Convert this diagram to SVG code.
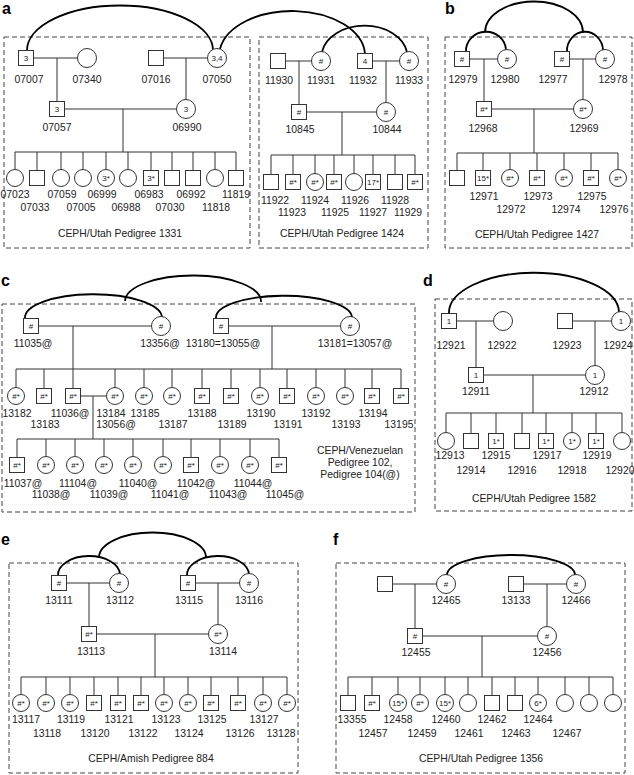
<svg xmlns="http://www.w3.org/2000/svg" width="634" height="775" viewBox="0 0 634 775">
<style>
.s{fill:#fff;stroke:#333;stroke-width:1}
.k{fill:none;stroke:#333;stroke-width:1}
.arc{fill:none;stroke:#000;stroke-width:1.8}
.box{fill:none;stroke:#444;stroke-width:1;stroke-dasharray:5 3}
text{font-family:"Liberation Sans",Arial,sans-serif;fill:#222;text-anchor:middle}
.l{font-size:10.4px}
.i{font-size:8px}
.p{font-size:16px;font-weight:bold;text-anchor:start;fill:#000}
</style>
<rect width="634" height="775" fill="#fff"/>
<!-- panel letters -->
<text class="p" x="2" y="14">a</text>
<text class="p" x="445" y="14">b</text>
<text class="p" x="1" y="286">c</text>
<text class="p" x="423" y="286">d</text>
<text class="p" x="1" y="545">e</text>
<text class="p" x="333" y="545">f</text>
<!-- boxes -->
<g id="boxes">
<rect class="box" x="4" y="37" width="246" height="211"/>
<rect class="box" x="259" y="37" width="169" height="211"/>
<rect class="box" x="445" y="37" width="187" height="211"/>
<rect class="box" x="2" y="304" width="413" height="208"/>
<rect class="box" x="435" y="299" width="197" height="212"/>
<rect class="box" x="9" y="563" width="289" height="210"/>
<rect class="box" x="336" y="563" width="289" height="210"/>
</g>
<!-- captions -->
<text class="l" x="120" y="237">CEPH/Utah Pedigree 1331</text>
<text class="l" x="342" y="237">CEPH/Utah Pedigree 1424</text>
<text class="l" x="537" y="238">CEPH/Utah Pedigree 1427</text>
<text class="l" x="360" y="454">CEPH/Venezuelan</text>
<text class="l" x="360" y="466">Pedigree 102,</text>
<text class="l" x="360" y="478">Pedigree 104(@)</text>
<text class="l" x="534" y="502">CEPH/Utah Pedigree 1582</text>
<text class="l" x="151" y="762">CEPH/Amish Pedigree 884</text>
<text class="l" x="481" y="762">CEPH/Utah Pedigree 1356</text>
<!-- connectors -->
<g id="connectors">
<path class="k" d="M33.5,58H77.5M57,58V101.5M163.5,58H207.5M186,58V99.5M64.5,109H176.5M123,109V152M15,152H236M15,152V169.5M37,152V170.5M61,152V169.5M83,152V169.5M106,152V169.5M128,152V169.5M151,152V170.5M172,152V170.5M193,152V170.5M215,152V169.5M236,152V170.5"/>
<path class="k" d="M285.5,61H311.5M299,61V104.5M372.5,61H399.5M386,61V102.5M306.5,112H376.5M342,112V155M271,155H415M271,155V174.5M293,155V174.5M315,155V173.5M334,155V174.5M354,155V173.5M373,155V174.5M395,155V174.5M415,155V174.5"/>
<path class="k" d="M469.5,59H497.5M484,59V101.5M569.5,59H595.5M583,59V99.5M491.5,109H573.5M534,109V153M457,153H618M457,153V170.5M483,153V170.5M510,153V169.5M537,153V170.5M564,153V169.5M591,153V170.5M618,153V169.5"/>
<path class="k" d="M38.5,326H151.5M73,326V388.5M228.5,326H340.5M272,326V369M16,369H401M16,369V387.5M44,369V388.5M115,369V387.5M144,369V387.5M172,369V387.5M202,369V388.5M231,369V388.5M260,369V387.5M287,369V388.5M316,369V387.5M345,369V387.5M372,369V388.5M401,369V388.5M80.5,396H106.5M93,396V439M17,439H279M17,439V457.5M46,439V456.5M75,439V456.5M104,439V456.5M133,439V456.5M163,439V456.5M191,439V457.5M220,439V456.5M250,439V456.5M279,439V457.5"/>
<path class="k" d="M456.5,321H493.5M476,321V367.5M572.5,321H611.5M595,321V365.5M483.5,375H585.5M533,375V413M446,413H622M446,413V432.5M471,413V433.5M496,413V433.5M522,413V433.5M546,413V433.5M572,413V432.5M596,413V433.5M622,413V432.5"/>
<path class="k" d="M66.5,583H109.5M89,583V626.5M195.5,583H239.5M218,583V624.5M96.5,634H208.5M155,634V677M21,677H287M21,677V694.5M46,677V694.5M70,677V694.5M94,677V695.5M118,677V695.5M141,677V695.5M164,677V694.5M188,677V694.5M211,677V695.5M238,677V695.5M263,677V694.5M287,677V694.5"/>
<path class="k" d="M392.5,584H436.5M415,584V628.5M523.5,584H566.5M547,584V626.5M422.5,636H537.5M482,636V677M348,677H613M348,677V695.5M372,677V695.5M398,677V694.5M420,677V694.5M445,677V694.5M468,677V694.5M492,677V695.5M515,677V695.5M538,677V694.5M565,677V694.5M589,677V694.5M613,677V694.5"/>
<!-- arcs -->
<path class="arc" d="M27,50.5A93,45 0 0 1 213,50.5"/>
<path class="arc" d="M220,49A73,45 0 0 1 365,53.5"/>
<path class="arc" d="M322,52A43,31 0 0 1 407,52"/>
<path class="arc" d="M466,51.5A20,19 0 0 1 506,50"/>
<path class="arc" d="M567,51.5A18,19 0 0 1 603,50"/>
<path class="arc" d="M485,32.5A49,31 0 0 1 583,32.5"/>
<path class="arc" d="M25,318.5A68.5,23.5 0 0 1 162,317"/>
<path class="arc" d="M216,318.5A68,22 0 0 1 352,317"/>
<path class="arc" d="M125,301A68,26 0 0 1 261,302"/>
<path class="arc" d="M449,313.5A85,40 0 0 1 619,312"/>
<path class="arc" d="M58,575.5A31,19 0 0 1 120,574.5"/>
<path class="arc" d="M187,575.5A31,19 0 0 1 249,574.5"/>
<path class="arc" d="M99,557.5A53.5,25 0 0 1 206,557.5"/>
<path class="arc" d="M447,575A64,20 0 0 1 575,575"/>
</g>
<!-- panel a nodes -->
<g id="n07007"><rect class="s" x="18.5" y="50.5" width="15" height="15"/><text class="i" x="26" y="61">3</text><text class="l" x="29" y="83">07007</text></g>
<g id="n07340"><circle class="s" cx="87" cy="58" r="9.5"/><text class="l" x="87" y="83">07340</text></g>
<g id="n07016"><rect class="s" x="148.5" y="50.5" width="15" height="15"/><text class="l" x="156" y="83">07016</text></g>
<g id="n07050"><circle class="s" cx="217" cy="58" r="9.5"/><text class="i" x="217" y="61">3,4</text><text class="l" x="217" y="83">07050</text></g>
<g id="n07057"><rect class="s" x="49.5" y="101.5" width="15" height="15"/><text class="i" x="57" y="112">3</text><text class="l" x="57" y="131">07057</text></g>
<g id="n06990"><circle class="s" cx="186" cy="109" r="9.5"/><text class="i" x="186" y="112">3</text><text class="l" x="187" y="131">06990</text></g>
<g id="n07023"><circle class="s" cx="15" cy="178" r="8.5"/><text class="l" x="15" y="198">07023</text></g>
<g id="n07033"><rect class="s" x="29.5" y="170.5" width="15" height="15"/><text class="l" x="35" y="211">07033</text></g>
<g id="n07059"><circle class="s" cx="61" cy="178" r="8.5"/><text class="l" x="62" y="198">07059</text></g>
<g id="n07005"><circle class="s" cx="83" cy="178" r="8.5"/><text class="l" x="81" y="211">07005</text></g>
<g id="n06999"><circle class="s" cx="106" cy="178" r="8.5"/><text class="i" x="106" y="181">3*</text><text class="l" x="102" y="198">06999</text></g>
<g id="n06988"><circle class="s" cx="128" cy="178" r="8.5"/><text class="l" x="126" y="211">06988</text></g>
<g id="n06983"><rect class="s" x="143.5" y="170.5" width="15" height="15"/><text class="i" x="151" y="181">3*</text><text class="l" x="149" y="198">06983</text></g>
<g id="n07030"><rect class="s" x="164.5" y="170.5" width="15" height="15"/><text class="l" x="170" y="211">07030</text></g>
<g id="n06992"><rect class="s" x="185.5" y="170.5" width="15" height="15"/><text class="l" x="191" y="198">06992</text></g>
<g id="n11818"><circle class="s" cx="215" cy="178" r="8.5"/><text class="l" x="216" y="211">11818</text></g>
<g id="n11819"><rect class="s" x="228.5" y="170.5" width="15" height="15"/><text class="l" x="236" y="198">11819</text></g>
<!-- panel 1424 -->
<g id="n11930"><rect class="s" x="270.5" y="53.5" width="15" height="15"/><text class="l" x="279" y="84">11930</text></g>
<g id="n11931"><circle class="s" cx="321" cy="61" r="9.5"/><text class="i" x="321" y="64">#</text><text class="l" x="321" y="84">11931</text></g>
<g id="n11932"><rect class="s" x="357.5" y="53.5" width="15" height="15"/><text class="i" x="365" y="64">4</text><text class="l" x="363" y="84">11932</text></g>
<g id="n11933"><circle class="s" cx="409" cy="61" r="9.5"/><text class="i" x="409" y="64">#</text><text class="l" x="409" y="84">11933</text></g>
<g id="n10845"><rect class="s" x="291.5" y="104.5" width="15" height="15"/><text class="i" x="299" y="115">#</text><text class="l" x="300" y="133">10845</text></g>
<g id="n10844"><circle class="s" cx="386" cy="112" r="9.5"/><text class="i" x="386" y="115">#</text><text class="l" x="387" y="133">10844</text></g>
<g id="n11922"><rect class="s" x="263.5" y="174.5" width="15" height="15"/><text class="l" x="275" y="204">11922</text></g>
<g id="n11923"><rect class="s" x="285.5" y="174.5" width="15" height="15"/><text class="i" x="293" y="185">#*</text><text class="l" x="292" y="216">11923</text></g>
<g id="n11924"><circle class="s" cx="315" cy="182" r="8.5"/><text class="i" x="315" y="185">#*</text><text class="l" x="315" y="204">11924</text></g>
<g id="n11925"><rect class="s" x="326.5" y="174.5" width="15" height="15"/><text class="i" x="334" y="185">#*</text><text class="l" x="335" y="216">11925</text></g>
<g id="n11926"><circle class="s" cx="354" cy="182" r="8.5"/><text class="l" x="355" y="204">11926</text></g>
<g id="n11927"><rect class="s" x="365.5" y="174.5" width="15" height="15"/><text class="i" x="373" y="185">17*</text><text class="l" x="373" y="216">11927</text></g>
<g id="n11928"><rect class="s" x="387.5" y="174.5" width="15" height="15"/><text class="l" x="395" y="204">11928</text></g>
<g id="n11929"><rect class="s" x="407.5" y="174.5" width="15" height="15"/><text class="i" x="415" y="185">#*</text><text class="l" x="408" y="216">11929</text></g>
<!-- panel b -->
<g id="n12979"><rect class="s" x="454.5" y="51.5" width="15" height="15"/><text class="i" x="462" y="62">#</text><text class="l" x="463" y="83">12979</text></g>
<g id="n12980"><circle class="s" cx="507" cy="59" r="9.5"/><text class="i" x="507" y="62">#</text><text class="l" x="505" y="83">12980</text></g>
<g id="n12977"><rect class="s" x="554.5" y="51.5" width="15" height="15"/><text class="i" x="562" y="62">#</text><text class="l" x="553" y="83">12977</text></g>
<g id="n12978"><circle class="s" cx="605" cy="59" r="9.5"/><text class="i" x="605" y="62">#</text><text class="l" x="613" y="83">12978</text></g>
<g id="n12968"><rect class="s" x="476.5" y="101.5" width="15" height="15"/><text class="i" x="484" y="112">#*</text><text class="l" x="483" y="132">12968</text></g>
<g id="n12969"><circle class="s" cx="583" cy="109" r="9.5"/><text class="i" x="583" y="112">#*</text><text class="l" x="584" y="132">12969</text></g>
<g id="b_u1"><rect class="s" x="449.5" y="170.5" width="15" height="15"/></g>
<g id="n12971"><rect class="s" x="475.5" y="170.5" width="15" height="15"/><text class="i" x="483" y="181">15*</text><text class="l" x="484" y="200">12971</text></g>
<g id="n12972"><circle class="s" cx="510" cy="178" r="8.5"/><text class="i" x="510" y="181">#*</text><text class="l" x="511" y="213">12972</text></g>
<g id="n12973"><rect class="s" x="529.5" y="170.5" width="15" height="15"/><text class="i" x="537" y="181">#*</text><text class="l" x="538" y="200">12973</text></g>
<g id="n12974"><circle class="s" cx="564" cy="178" r="8.5"/><text class="i" x="564" y="181">#*</text><text class="l" x="566" y="213">12974</text></g>
<g id="n12975"><rect class="s" x="583.5" y="170.5" width="15" height="15"/><text class="i" x="591" y="181">#*</text><text class="l" x="592" y="200">12975</text></g>
<g id="n12976"><circle class="s" cx="618" cy="178" r="8.5"/><text class="i" x="618" y="181">#*</text><text class="l" x="614" y="213">12976</text></g>
<!-- panel c -->
<g id="n11035"><rect class="s" x="23.5" y="318.5" width="15" height="15"/><text class="i" x="31" y="329">#</text><text class="l" x="33" y="347">11035@</text></g>
<g id="n13356"><circle class="s" cx="161" cy="326" r="9.5"/><text class="i" x="161" y="329">#</text><text class="l" x="160" y="347">13356@</text></g>
<g id="n13180"><rect class="s" x="213.5" y="318.5" width="15" height="15"/><text class="i" x="221" y="329">#</text><text class="l" x="223" y="347">13180=13055@</text></g>
<g id="n13181"><circle class="s" cx="350" cy="326" r="9.5"/><text class="i" x="350" y="329">#</text><text class="l" x="355" y="347">13181=13057@</text></g>
<g id="n13182"><circle class="s" cx="16" cy="396" r="8.5"/><text class="i" x="16" y="399">#*</text><text class="l" x="17" y="417">13182</text></g>
<g id="n13183"><rect class="s" x="36.5" y="388.5" width="15" height="15"/><text class="i" x="44" y="399">#*</text><text class="l" x="45" y="428">13183</text></g>
<g id="n11036"><rect class="s" x="65.5" y="388.5" width="15" height="15"/><text class="i" x="73" y="399">#*</text><text class="l" x="70" y="417">11036@</text></g>
<g id="n13184"><circle class="s" cx="115" cy="396" r="8.5"/><text class="i" x="115" y="399">#*</text><text class="l" x="111" y="417">13184</text><text class="l" x="116" y="428">13056@</text></g>
<g id="n13185"><circle class="s" cx="144" cy="396" r="8.5"/><text class="i" x="144" y="399">#*</text><text class="l" x="145" y="417">13185</text></g>
<g id="n13187"><circle class="s" cx="172" cy="396" r="8.5"/><text class="i" x="172" y="399">#*</text><text class="l" x="173" y="428">13187</text></g>
<g id="n13188"><rect class="s" x="194.5" y="388.5" width="15" height="15"/><text class="i" x="202" y="399">#*</text><text class="l" x="202" y="417">13188</text></g>
<g id="n13189"><rect class="s" x="223.5" y="388.5" width="15" height="15"/><text class="i" x="231" y="399">#*</text><text class="l" x="232" y="428">13189</text></g>
<g id="n13190"><circle class="s" cx="260" cy="396" r="8.5"/><text class="i" x="260" y="399">#*</text><text class="l" x="261" y="417">13190</text></g>
<g id="n13191"><rect class="s" x="279.5" y="388.5" width="15" height="15"/><text class="i" x="287" y="399">#*</text><text class="l" x="288" y="428">13191</text></g>
<g id="n13192"><circle class="s" cx="316" cy="396" r="8.5"/><text class="i" x="316" y="399">#*</text><text class="l" x="316" y="417">13192</text></g>
<g id="n13193"><circle class="s" cx="345" cy="396" r="8.5"/><text class="i" x="345" y="399">#*</text><text class="l" x="346" y="428">13193</text></g>
<g id="n13194"><rect class="s" x="364.5" y="388.5" width="15" height="15"/><text class="i" x="372" y="399">#*</text><text class="l" x="373" y="417">13194</text></g>
<g id="n13195"><rect class="s" x="393.5" y="388.5" width="15" height="15"/><text class="i" x="401" y="399">#*</text><text class="l" x="399" y="428">13195</text></g>
<g id="n11037"><rect class="s" x="9.5" y="457.5" width="15" height="15"/><text class="i" x="17" y="468">#*</text><text class="l" x="23" y="487">11037@</text></g>
<g id="n11038"><circle class="s" cx="46" cy="465" r="8.5"/><text class="i" x="46" y="468">#*</text><text class="l" x="51" y="498">11038@</text></g>
<g id="n11104"><circle class="s" cx="75" cy="465" r="8.5"/><text class="i" x="75" y="468">#*</text><text class="l" x="78" y="487">11104@</text></g>
<g id="n11039"><circle class="s" cx="104" cy="465" r="8.5"/><text class="i" x="104" y="468">#*</text><text class="l" x="109" y="498">11039@</text></g>
<g id="n11040"><circle class="s" cx="133" cy="465" r="8.5"/><text class="i" x="133" y="468">#*</text><text class="l" x="138" y="487">11040@</text></g>
<g id="n11041"><circle class="s" cx="163" cy="465" r="8.5"/><text class="i" x="163" y="468">#*</text><text class="l" x="170" y="498">11041@</text></g>
<g id="n11042"><rect class="s" x="183.5" y="457.5" width="15" height="15"/><text class="i" x="191" y="468">#*</text><text class="l" x="196" y="487">11042@</text></g>
<g id="n11043"><circle class="s" cx="220" cy="465" r="8.5"/><text class="i" x="220" y="468">#*</text><text class="l" x="228" y="498">11043@</text></g>
<g id="n11044"><circle class="s" cx="250" cy="465" r="8.5"/><text class="i" x="250" y="468">#*</text><text class="l" x="253" y="487">11044@</text></g>
<g id="n11045"><rect class="s" x="271.5" y="457.5" width="15" height="15"/><text class="i" x="279" y="468">#*</text><text class="l" x="285" y="498">11045@</text></g>
<!-- panel d -->
<g id="n12921"><rect class="s" x="441.5" y="313.5" width="15" height="15"/><text class="i" x="449" y="324">1</text><text class="l" x="451" y="349">12921</text></g>
<g id="n12922"><circle class="s" cx="503" cy="321" r="9.5"/><text class="l" x="502" y="349">12922</text></g>
<g id="n12923"><rect class="s" x="557.5" y="313.5" width="15" height="15"/><text class="l" x="567" y="349">12923</text></g>
<g id="n12924"><circle class="s" cx="621" cy="321" r="9.5"/><text class="i" x="621" y="324">1</text><text class="l" x="618" y="349">12924</text></g>
<g id="n12911"><rect class="s" x="468.5" y="367.5" width="15" height="15"/><text class="i" x="476" y="378">1</text><text class="l" x="476" y="395">12911</text></g>
<g id="n12912"><circle class="s" cx="595" cy="375" r="9.5"/><text class="i" x="595" y="378">1</text><text class="l" x="594" y="395">12912</text></g>
<g id="n12913"><circle class="s" cx="446" cy="441" r="8.5"/><text class="l" x="450" y="459">12913</text></g>
<g id="n12914"><rect class="s" x="463.5" y="433.5" width="15" height="15"/><text class="l" x="471" y="474">12914</text></g>
<g id="n12915"><rect class="s" x="488.5" y="433.5" width="15" height="15"/><text class="i" x="496" y="444">1*</text><text class="l" x="496" y="459">12915</text></g>
<g id="n12916"><rect class="s" x="514.5" y="433.5" width="15" height="15"/><text class="l" x="522" y="474">12916</text></g>
<g id="n12917"><rect class="s" x="538.5" y="433.5" width="15" height="15"/><text class="i" x="546" y="444">1*</text><text class="l" x="547" y="459">12917</text></g>
<g id="n12918"><circle class="s" cx="572" cy="441" r="8.5"/><text class="i" x="572" y="444">1*</text><text class="l" x="572" y="474">12918</text></g>
<g id="n12919"><rect class="s" x="588.5" y="433.5" width="15" height="15"/><text class="i" x="596" y="444">1*</text><text class="l" x="597" y="459">12919</text></g>
<g id="n12920"><circle class="s" cx="622" cy="441" r="8.5"/><text class="l" x="620" y="474">12920</text></g>
<!-- panel e -->
<g id="n13111"><rect class="s" x="51.5" y="575.5" width="15" height="15"/><text class="i" x="59" y="586">#</text><text class="l" x="59" y="604">13111</text></g>
<g id="n13112"><circle class="s" cx="119" cy="583" r="9.5"/><text class="i" x="119" y="586">#</text><text class="l" x="120" y="604">13112</text></g>
<g id="n13115"><rect class="s" x="180.5" y="575.5" width="15" height="15"/><text class="i" x="188" y="586">#</text><text class="l" x="189" y="604">13115</text></g>
<g id="n13116"><circle class="s" cx="249" cy="583" r="9.5"/><text class="i" x="249" y="586">#</text><text class="l" x="249" y="604">13116</text></g>
<g id="n13113"><rect class="s" x="81.5" y="626.5" width="15" height="15"/><text class="i" x="89" y="637">#*</text><text class="l" x="91" y="655">13113</text></g>
<g id="n13114"><circle class="s" cx="218" cy="634" r="9.5"/><text class="i" x="218" y="637">#*</text><text class="l" x="223" y="655">13114</text></g>
<g id="n13117"><circle class="s" cx="21" cy="703" r="8.5"/><text class="i" x="21" y="706">#*</text><text class="l" x="26" y="723">13117</text></g>
<g id="n13118"><circle class="s" cx="46" cy="703" r="8.5"/><text class="i" x="46" y="706">#*</text><text class="l" x="47" y="737">13118</text></g>
<g id="n13119"><circle class="s" cx="70" cy="703" r="8.5"/><text class="i" x="70" y="706">#*</text><text class="l" x="71" y="723">13119</text></g>
<g id="n13120"><rect class="s" x="86.5" y="695.5" width="15" height="15"/><text class="i" x="94" y="706">#*</text><text class="l" x="95" y="737">13120</text></g>
<g id="n13121"><rect class="s" x="110.5" y="695.5" width="15" height="15"/><text class="i" x="118" y="706">#*</text><text class="l" x="119" y="723">13121</text></g>
<g id="n13122"><rect class="s" x="133.5" y="695.5" width="15" height="15"/><text class="i" x="141" y="706">#*</text><text class="l" x="143" y="737">13122</text></g>
<g id="n13123"><circle class="s" cx="164" cy="703" r="8.5"/><text class="i" x="164" y="706">#*</text><text class="l" x="166" y="723">13123</text></g>
<g id="n13124"><circle class="s" cx="188" cy="703" r="8.5"/><text class="i" x="188" y="706">#*</text><text class="l" x="189" y="737">13124</text></g>
<g id="n13125"><rect class="s" x="203.5" y="695.5" width="15" height="15"/><text class="i" x="211" y="706">#*</text><text class="l" x="212" y="723">13125</text></g>
<g id="n13126"><rect class="s" x="230.5" y="695.5" width="15" height="15"/><text class="i" x="238" y="706">#*</text><text class="l" x="240" y="737">13126</text></g>
<g id="n13127"><circle class="s" cx="263" cy="703" r="8.5"/><text class="i" x="263" y="706">#*</text><text class="l" x="264" y="723">13127</text></g>
<g id="n13128"><circle class="s" cx="287" cy="703" r="8.5"/><text class="i" x="287" y="706">#*</text><text class="l" x="281" y="737">13128</text></g>
<!-- panel f -->
<g id="f_u1"><rect class="s" x="377.5" y="576.5" width="15" height="15"/></g>
<g id="n12465"><circle class="s" cx="446" cy="584" r="9.5"/><text class="i" x="446" y="587">#</text><text class="l" x="446" y="604">12465</text></g>
<g id="n13133"><rect class="s" x="508.5" y="576.5" width="15" height="15"/><text class="l" x="516" y="604">13133</text></g>
<g id="n12466"><circle class="s" cx="576" cy="584" r="9.5"/><text class="i" x="576" y="587">#</text><text class="l" x="576" y="604">12466</text></g>
<g id="n12455"><rect class="s" x="407.5" y="628.5" width="15" height="15"/><text class="i" x="415" y="639">#</text><text class="l" x="416" y="656">12455</text></g>
<g id="n12456"><circle class="s" cx="547" cy="636" r="9.5"/><text class="i" x="547" y="639">#</text><text class="l" x="547" y="656">12456</text></g>
<g id="n13355"><rect class="s" x="340.5" y="695.5" width="15" height="15"/><text class="l" x="352" y="723">13355</text></g>
<g id="n12457"><rect class="s" x="364.5" y="695.5" width="15" height="15"/><text class="i" x="372" y="706">#*</text><text class="l" x="373" y="737">12457</text></g>
<g id="n12458"><circle class="s" cx="398" cy="703" r="8.5"/><text class="i" x="398" y="706">15*</text><text class="l" x="398" y="723">12458</text></g>
<g id="n12459"><circle class="s" cx="420" cy="703" r="8.5"/><text class="i" x="420" y="706">#*</text><text class="l" x="422" y="737">12459</text></g>
<g id="n12460"><circle class="s" cx="445" cy="703" r="8.5"/><text class="i" x="445" y="706">15*</text><text class="l" x="446" y="723">12460</text></g>
<g id="n12461"><circle class="s" cx="468" cy="703" r="8.5"/><text class="l" x="469" y="737">12461</text></g>
<g id="n12462"><rect class="s" x="484.5" y="695.5" width="15" height="15"/><text class="l" x="492" y="723">12462</text></g>
<g id="n12463"><rect class="s" x="507.5" y="695.5" width="15" height="15"/><text class="l" x="516" y="737">12463</text></g>
<g id="n12464"><circle class="s" cx="538" cy="703" r="8.5"/><text class="i" x="538" y="706">6*</text><text class="l" x="538" y="723">12464</text></g>
<g id="n12467"><circle class="s" cx="565" cy="703" r="8.5"/><text class="l" x="567" y="737">12467</text></g>
<g id="f_u2"><circle class="s" cx="589" cy="703" r="8.5"/></g>
<g id="f_u3"><circle class="s" cx="613" cy="703" r="8.5"/></g>
</svg>
